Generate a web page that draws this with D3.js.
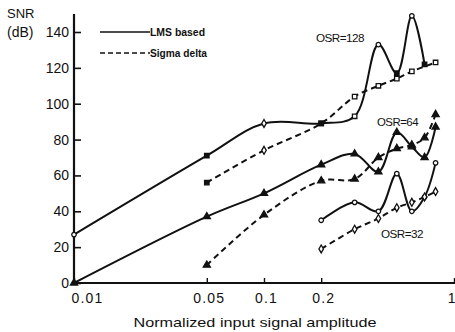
<!DOCTYPE html>
<html><head><meta charset="utf-8">
<script src="https://cdn.jsdelivr.net/npm/d3@7"></script>
<style>
html,body{margin:0;padding:0;background:#fff;}
svg{display:block;}
text{font-family:"Liberation Sans",Arial,sans-serif;fill:#111;}
</style></head>
<body>
<svg id="c" width="455" height="332"></svg>
<script>
// ---- data ----
const xTicks = [0.01, 0.05, 0.1, 0.2, 1];
const xTickLabels = ["0.01", "0.05", "0.1", "0.2", "1"];
const yTicks = [0, 20, 40, 60, 80, 100, 120, 140];

const lms128X = [0.01, 0.05, 0.1, 0.2, 0.3, 0.4, 0.5, 0.6, 0.7];
const lms128Y = [27, 71, 89, 89, 93, 133, 117, 149, 122];
const sd128X = [0.05, 0.1, 0.2, 0.3, 0.4, 0.5, 0.6, 0.8];
const sd128Y = [56, 74, 89, 104, 110, 114, 118, 123];

const lms64X = [0.01, 0.05, 0.1, 0.2, 0.3, 0.4, 0.5, 0.6, 0.7, 0.8];
const lms64Y = [0, 37, 50, 66, 72, 62, 84, 76, 70, 87];
const sd64X = [0.05, 0.1, 0.2, 0.3, 0.4, 0.5, 0.6, 0.7, 0.8];
const sd64Y = [10, 38, 57, 58, 70, 75, 77, 81, 94];

const lms32X = [0.2, 0.3, 0.4, 0.5, 0.6, 0.7, 0.8];
const lms32Y = [35, 45, 40, 61, 40, 48, 67];
const sd32X = [0.2, 0.3, 0.4, 0.5, 0.6, 0.7, 0.8];
const sd32Y = [19, 30, 36, 42, 45, 48, 51];

const legendLabels = ["LMS based", "Sigma delta"];
const osrLabels = ["OSR=128", "OSR=64", "OSR=32"];
const yTitle = ["SNR", "(dB)"];
const xTitle = "Normalized input signal amplitude";

// ---- styles ----
const marks128 = ["co","sf","do","sf","so","co","sf","co","sf"];
const marksSd128 = ["sf","do","sf","so","so","so","so","so"];
const marks64 = ["tf","tf","tf","tf","tf","tf","tf","tf","tf","tf"];
const marksSd64 = ["tf","tf","tf","tf","tf","tf","tf","tf","tf"];
const marks32 = ["co","co","co","co","co","co","co"];
const marksSd32 = ["do","do","do","do","do","do","do"];

const svg = d3.select("#c");
const x = d3.scaleLog().domain([0.01, 1]).range([74, 454]);
const y = d3.scaleLinear().domain([0, 140]).range([283, 32]);

// axes
const yAxis = d3.axisLeft(y).tickValues(yTicks).tickSize(-7).tickPadding(4).tickFormat(d3.format("d"));
const gy = svg.append("g").attr("transform", `translate(${x(0.01)},0)`).call(yAxis);
gy.select(".domain").remove();
gy.selectAll(".tick line").attr("stroke", "#111").attr("stroke-width", 1.6);
gy.selectAll(".tick text").attr("font-size", 14).attr("fill", "#111").attr("dx", -1);

const xAxis = d3.axisBottom(x).tickValues(xTicks).tickSize(-5).tickPadding(10)
  .tickFormat((d, i) => xTickLabels[i]);
const gx = svg.append("g").attr("transform", `translate(0,${y(0)})`).call(xAxis);
gx.select(".domain").remove();
gx.selectAll(".tick line").attr("stroke", "#111").attr("stroke-width", 1.4);
gx.selectAll(".tick text").attr("font-size", 14).attr("fill", "#111")
  .attr("letter-spacing", (d, i) => i === xTicks.length - 1 ? 0 : 1.2)
  .attr("text-anchor", (d, i) => i === xTicks.length - 1 ? "end" : "middle")
  .attr("dx", (d, i) => i === 0 ? 13 : (i === xTicks.length - 1 ? 1 : 2));

svg.append("line").attr("x1", x(0.01)).attr("x2", x(0.01)).attr("y1", y(0)).attr("y2", y(150))
  .attr("stroke", "#111").attr("stroke-width", 2.2);
svg.append("line").attr("x1", x(0.01) - 2).attr("x2", 455).attr("y1", y(0)).attr("y2", y(0))
  .attr("stroke", "#111").attr("stroke-width", 2.2);

// titles
svg.append("text").attr("x", 7).attr("y", 18).attr("font-size", 13).text(yTitle[0]);
svg.append("text").attr("x", 7).attr("y", 37).attr("font-size", 14).text(yTitle[1]);
svg.append("text").attr("x", 255).attr("y", 327).attr("text-anchor", "middle")
  .attr("font-size", 13).attr("textLength", 243).attr("lengthAdjust", "spacingAndGlyphs").text(xTitle);

// series
const line = d3.line().x(d => x(d[0])).y(d => y(d[1])).curve(d3.curveCatmullRom.alpha(0.5));
const zip = (xs, ys) => xs.map((v, i) => [v, ys[i]]);
const series = [
  {d: zip(lms128X, lms128Y), dash: null, m: marks128},
  {d: zip(sd128X, sd128Y), dash: "6,4", m: marksSd128},
  {d: zip(lms64X, lms64Y), dash: null, m: marks64},
  {d: zip(sd64X, sd64Y), dash: "6,4", m: marksSd64},
  {d: zip(lms32X, lms32Y), dash: null, m: marks32},
  {d: zip(sd32X, sd32Y), dash: "6,4", m: marksSd32}
];
series.forEach(s => {
  svg.append("path").datum(s.d).attr("d", line).attr("fill", "none")
    .attr("stroke", "#111").attr("stroke-width", 2)
    .attr("stroke-dasharray", s.dash);
});
const symType = {c: d3.symbolCircle, s: d3.symbolSquare, d: d3.symbolDiamond, t: d3.symbolTriangle};
const symSize = {c: 16, s: 20, d: 18, t: 22};
series.forEach(s => {
  svg.append("g").selectAll("path").data(s.d).join("path")
    .attr("transform", d => `translate(${x(d[0])},${y(d[1])})`)
    .attr("d", (d, i) => d3.symbol().type(symType[s.m[i][0]]).size(symSize[s.m[i][0]])())
    .attr("fill", (d, i) => s.m[i][1] === "f" ? "#111" : "#fff")
    .attr("stroke", "#111").attr("stroke-width", 1.3);
});

// legend
const lg = svg.append("g");
[0, 1].forEach(i => {
  const yy = 32 + i * 21;
  lg.append("line").attr("x1", 100).attr("x2", 150).attr("y1", yy).attr("y2", yy)
    .attr("stroke", "#111").attr("stroke-width", 1.6)
    .attr("stroke-dasharray", i ? "5,3" : null);
  lg.append("text").attr("x", 150).attr("y", yy + 3.5)
    .attr("font-family", "Liberation Serif, serif").attr("font-weight", "bold")
    .attr("font-size", 10).attr("textLength", i ? 57 : 55).attr("lengthAdjust", "spacingAndGlyphs")
    .text(legendLabels[i]);
});

// OSR labels
const osrPos = [[316, 42, 48], [377, 126, 41], [381, 238, 42]];
osrLabels.forEach((t, i) => {
  svg.append("text").attr("x", osrPos[i][0]).attr("y", osrPos[i][1])
    .attr("font-size", 11).attr("letter-spacing", -0.5)
    .attr("textLength", osrPos[i][2]).attr("lengthAdjust", "spacingAndGlyphs").text(t);
});
</script>
</body></html>
